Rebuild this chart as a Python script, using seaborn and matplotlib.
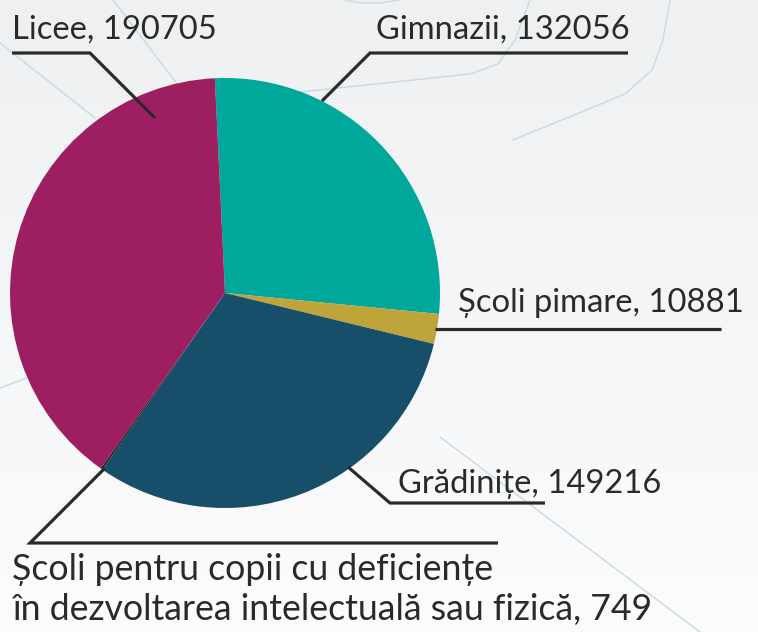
import numpy as np
import matplotlib
matplotlib.use("Agg")
import matplotlib.pyplot as plt
import seaborn as sns
from matplotlib.colors import LinearSegmentedColormap

# ---- data ----
categories = ["Gimnazii", "Școli pimare", "Grădinițe",
              "Școli pentru copii cu deficiențe\nîn dezvoltarea intelectuală sau fizică",
              "Licee"]
values = [132056, 10881, 149216, 749, 190705]
slice_colors = ["#00a79b", "#bea439", "#174e69", "#262626", "#9d1f61"]

sns.set_theme(style="white")
plt.rcParams['font.family'] = ['Lato', 'DejaVu Sans']
palette = sns.color_palette(slice_colors)

W, H = 758, 632
TXT = "#2a2a2a"
fig = plt.figure(figsize=(W / 100, H / 100), dpi=100)
ax = fig.add_axes([0, 0, 1, 1])

def P(x, y):
    return x, H - y

# background gradient
grad = np.linspace(0, 1, 256).reshape(-1, 1)
bg = LinearSegmentedColormap.from_list("bg", ["#eef0f2", "#fcfcfd"])
ax.imshow(grad, cmap=bg, extent=[0, W, 0, H], origin="upper", aspect="auto", zorder=0)

# decorative faint lines
deco = [
    [(0, 43), (95, 118)],
    [(113, 0), (178, 85)],
    [(300, 92), (470, 74), (498, 64), (515, 40), (530, 0)],
    [(513, 140), (625, 94), (652, 70), (663, 40), (670, 0)],
    [(345, 0), (360, 3), (380, 3), (400, 0)],
    [(0, 388), (40, 373)],
    [(440, 437), (700, 632)],
]
for pts in deco:
    xs = [p[0] for p in pts]
    ys = [H - p[1] for p in pts]
    ax.plot(xs, ys, color="#c9dde1", lw=1.1, zorder=1, solid_capstyle="round")

# pie
cx, cy, R = 225, 293, 215
wedges, _ = ax.pie(values, colors=palette, startangle=92.7, counterclock=False,
                   center=P(cx, cy), radius=R, wedgeprops=dict(linewidth=0))
for w in wedges:
    w.set_zorder(2)

# leader lines (pixel coords)
leaders = {
    "Licee": [(12, 53), (90, 53), (155, 118)],
    "Gimnazii": [(322, 101), (370, 53), (628, 53)],
    "Școli pimare": [(435, 329), (721, 329)],
    "Grădinițe": [(348, 467), (390, 503), (545, 503)],
    "special": [(105, 468), (30, 543), (498, 543)],
}
for pts in leaders.values():
    ax.plot([p[0] for p in pts], [H - p[1] for p in pts], color=TXT, lw=2.3,
            zorder=3, solid_joinstyle="miter", solid_capstyle="butt")

ax.set_xlim(0, W)
ax.set_ylim(0, H)
ax.set_aspect("equal")
ax.axis("off")

# labels
lab = {c: v for c, v in zip(categories, values)}
special = categories[3].split("\n")
texts = [
    (f"Licee, {lab['Licee']}", 12, 215, 39),
    (f"Gimnazii, {lab['Gimnazii']}", 376, 635, 39),
    (f"Școli pimare, {lab['Școli pimare']}", 458, 750, 312),
    (f"Grădinițe, {lab['Grădinițe']}", 398, 655, 493),
    (special[0], 12, 498, 580),
    (f"{special[1]}, {lab[categories[3]]}", 12, 655, 620),
]
fig.canvas.draw()
r = fig.canvas.get_renderer()
objs = []
ratios = []
for s, x0, x1, yb in texts:
    t = ax.text(x0, H - yb, s, fontsize=20, ha="left", va="baseline", color=TXT, zorder=4)
    wpx = t.get_window_extent(r).width
    ratios.append((x1 - x0) / wpx)
    objs.append(t)
top_scale = np.mean(ratios[:4])
bot_scale = ratios[5]
for i, t in enumerate(objs):
    t.set_fontsize(20 * (top_scale if i < 4 else bot_scale))

fig.savefig("out.png", dpi=100)
